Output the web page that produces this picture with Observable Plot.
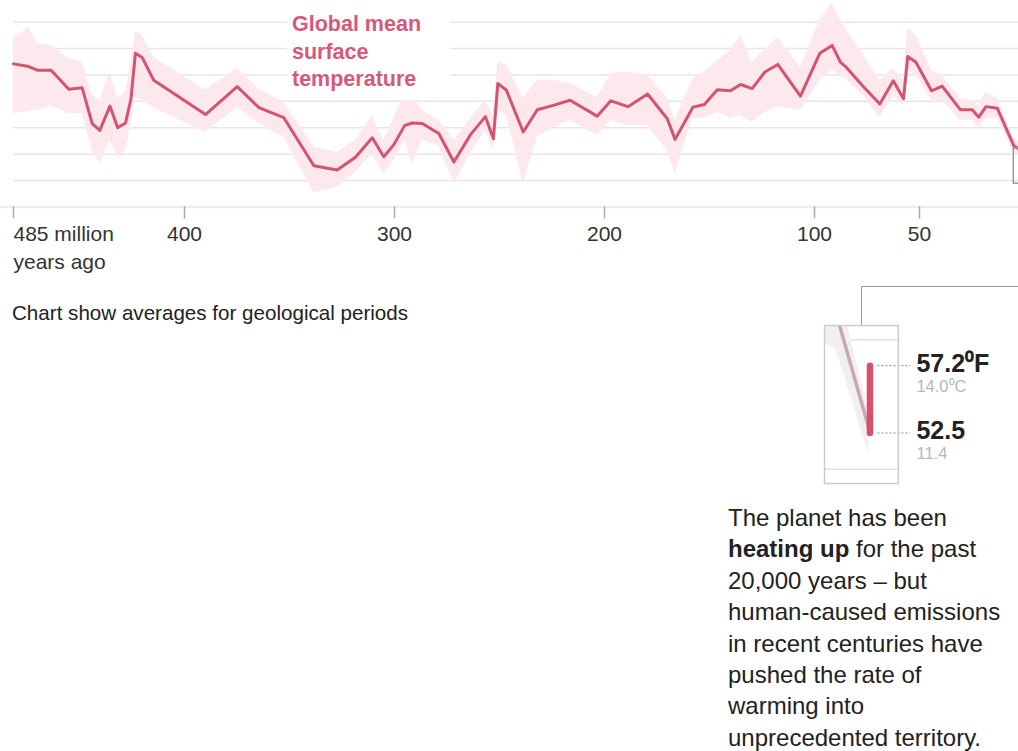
<!DOCTYPE html>
<html>
<head>
<meta charset="utf-8">
<script src="https://cdn.jsdelivr.net/npm/d3@7"></script>
<script src="https://cdn.jsdelivr.net/npm/@observablehq/plot@0.6"></script>
<style>
  html, body { margin: 0; padding: 0; background: #fff; overflow: hidden; }
  body { width: 1018px; height: 751px; position: relative; font-family: "Liberation Sans", Arial, sans-serif; color: #222; }
  #main { position: absolute; left: 0; top: 0; }
  #title { position: absolute; left: 287px; top: 9px; width: 158px; padding: 2px 0 6px 5px; background: #fff;
           font-weight: bold; font-size: 21.5px; line-height: 27.5px; color: #d6587a; }
  #note { position: absolute; left: 12px; top: 301px; font-size: 20.6px; line-height: 24px; color: #222; white-space: nowrap; }
  #connector { position: absolute; left: 861px; top: 286px; width: 200px; height: 39px;
               border-top: 1.5px solid #999; border-left: 1.5px solid #999; box-sizing: border-box; }
  #inset { position: absolute; left: 824px; top: 325px; }
  #para { position: absolute; left: 728px; top: 502px; font-size: 24px; line-height: 31.4px; color: #222; white-space: nowrap; }
</style>
</head>
<body>
<div id="main"></div>
<div id="title">Global mean<br>surface<br>temperature</div>
<div id="note">Chart show averages for geological periods</div>
<div id="connector"></div>
<div id="inset"></div>
<div id="para">The planet has been<br><b>heating up</b> for the past<br>20,000 years – but<br>human-caused emissions<br>in recent centuries have<br>pushed the rate of<br>warming into<br>unprecedented territory.</div>
<script>
// Millions of years ago (averages for geological periods)
const ages = [485, 477.4, 473.2, 466.3, 457.5, 450.9, 445.9, 442.1, 437.1, 433.2,
  429.3, 426.6, 424.4, 421.0, 415.3, 390.0, 374.9, 364.6, 352.7, 338.4,
  327.3, 318.6, 310.6, 305.1, 300.3, 295.2, 291.6, 286.8, 278.9, 271.7,
  263.8, 256.7, 252.9, 250.8, 246.7, 238.7, 232.0, 224.8, 216.4, 203.5,
  197.0, 188.8, 179.5, 170.1, 166.4, 157.9, 152.4, 146.3, 140.0, 135.2,
  129.7, 123.8, 117.5, 106.7, 97.5, 91.6, 87.6, 85.2, 76.8, 68.9,
  62.5, 57.6, 55.6, 51.7, 44.3, 39.2, 30.5, 24.9, 21.8, 18.3,
  13.0, 5.1, 2.7, 0.1];
// Global mean surface temperature, °C
const temps = [32.1, 31.6, 30.9, 30.9, 27.3, 27.6, 20.8, 19.5, 24.1, 20.0,
  20.9, 25.5, 34.1, 33.3, 29.0, 22.5, 27.8, 23.8, 21.9, 12.8,
  12.0, 14.4, 18.1, 14.5, 16.8, 20.4, 20.9, 20.8, 18.9, 13.5,
  18.7, 22.1, 17.9, 28.4, 27.1, 19.2, 23.4, 24.2, 25.2, 22.2,
  25.1, 24.0, 26.4, 21.7, 17.8, 23.9, 24.4, 27.2, 27.0, 28.2,
  27.4, 30.5, 32.0, 26.0, 34.1, 35.6, 32.4, 31.6, 27.8, 24.5,
  28.9, 25.5, 33.5, 32.4, 27.0, 27.9, 23.4, 23.4, 22.0, 24.0,
  23.7, 16.6, 16.0, 11.6];
// Uncertainty range, upper and lower bounds, °C
const tempHigh = [36.9, 39.0, 36.0, 35.6, 33.1, 32.4, 26.1, 25.2, 30.5, 25.5,
  26.7, 32.4, 38.2, 37.5, 33.3, 27.1, 31.2, 27.4, 24.8, 16.3,
  15.3, 17.6, 22.3, 17.6, 21.8, 26.5, 26.1, 23.3, 21.4, 17.6,
  21.8, 25.2, 22.3, 32.4, 31.8, 25.7, 29.0, 29.0, 28.4, 25.7,
  30.3, 30.5, 29.9, 25.7, 21.4, 29.3, 30.5, 32.7, 34.6, 37.5,
  32.4, 34.6, 37.1, 31.4, 40.3, 43.6, 40.3, 38.8, 33.7, 29.0,
  31.2, 29.0, 38.8, 37.5, 30.9, 29.9, 25.5, 25.2, 24.2, 26.7,
  25.5, 18.0, 17.4, 12.2];
const tempLow = [22.7, 23.1, 23.3, 24.2, 22.7, 22.7, 15.7, 13.2, 17.6, 14.2,
  15.7, 20.4, 25.7, 25.2, 23.8, 19.1, 23.8, 20.8, 18.2, 7.7,
  8.7, 11.5, 15.1, 11.3, 13.8, 17.6, 13.2, 17.6, 16.6, 9.4,
  15.1, 19.5, 15.7, 23.3, 22.3, 9.4, 18.2, 19.9, 21.4, 18.5,
  21.4, 20.4, 20.4, 15.7, 11.3, 21.8, 21.8, 22.9, 21.8, 22.3,
  21.0, 22.9, 24.0, 23.3, 29.0, 30.9, 29.9, 29.3, 26.1, 21.9,
  26.1, 24.2, 30.9, 29.9, 25.2, 25.2, 21.4, 21.4, 20.1, 21.8,
  21.8, 15.3, 14.6, 10.6];

const tickVals = [485, 400, 300, 200, 100, 50];
const tickLabels = ["485 million\nyears ago", "400", "300", "200", "100", "50"];
const gridTemps = [10, 15, 20, 25, 30, 35, 40];
const baseTemp = 5;

// Zoomed box (last few million years)
const zoomAges = [5.1, -5];
const zoomTemps = [9.4, 16.1];
// Inset: warming over the past 20,000 years
const recentC = [14.0, 11.4];
const recentF = ["57.2⁰F", "52.5"];
const recentCLabels = ["14.0⁰C", "11.4"];
const insetGrid = [10, 15];

const FONT = '"Liberation Sans", Arial, sans-serif';
const rows = ages.map((a, i) => ({age: a, t: temps[i], hi: tempHigh[i], lo: tempLow[i]}));
const box = [{a1: zoomAges[0], a2: zoomAges[1], t1: zoomTemps[0], t2: zoomTemps[1]}];

const H = 285;
const main = Plot.plot({
  width: 1018, height: H,
  marginLeft: 13, marginRight: 0, marginTop: 21.7, marginBottom: H - 206.4,
  x: {type: "linear", domain: [485, 400, 0], range: [13, 184, 1024]},
  y: {domain: [5, 40], range: [206.4, 21.7], axis: null},
  style: {fontFamily: FONT, fontSize: "21px", color: "#333", background: "transparent"},
  marks: [
    Plot.ruleY(gridTemps, {stroke: "#e6e6e6", strokeWidth: 1.5}),
    Plot.ruleY([baseTemp], {x1: 0, x2: 1018, stroke: "#eeeeee", strokeWidth: 2.5}),
    Plot.areaY(rows, {x: "age", y1: "lo", y2: "hi", fill: "#fce8ed"}),
    Plot.line(rows, {x: "age", y: "t", stroke: "#d4536f", strokeWidth: 3, strokeLinejoin: "round"}),
    Plot.rect(box, {x1: "a1", x2: "a2", y1: "t1", y2: "t2", fill: "none", stroke: "#999", strokeWidth: 1.5}),
    Plot.axisX({ticks: tickVals.slice(1), tickFormat: d => tickLabels[tickVals.indexOf(d)],
      tickSize: 12, tickPadding: 7, stroke: "#aaa", strokeWidth: 1.5, fill: "#333", fontSize: 21, label: null}),
    Plot.axisX({ticks: tickVals.slice(0, 1), tickFormat: d => tickLabels[tickVals.indexOf(d)],
      tickSize: 12, tickPadding: 2, stroke: "#aaa", strokeWidth: 1.5, fill: "#333", fontSize: 21,
      textAnchor: "start", lineHeight: 1.33, label: null})
  ]
});
document.getElementById("main").appendChild(main);

// Inset
const insetRows = rows.filter(d => d.age <= 6);
const recent = recentC.map((c, i) => ({c, f: recentF[i], cl: recentCLabels[i]}));
const barAge = 0;
const leadFrom = -0.6, leadTo = -3.24, labelAt = -3.72;
const inset = Plot.plot({
  width: 194, height: 158,
  marginLeft: 0, marginTop: 0, marginBottom: 0, marginRight: 120.3,
  x: {domain: [3.64, -2.26], axis: null},
  y: {domain: [9.45, 15.55], axis: null},
  style: {fontFamily: FONT, background: "transparent", overflow: "visible"},
  marks: [
    Plot.ruleY(insetGrid, {stroke: "#e2e2e2", strokeWidth: 1.5}),
    Plot.areaY(insetRows, {x: "age", y1: "lo", y2: "hi", fill: "#f0f0f0", clip: true}),
    Plot.line(insetRows, {x: "age", y: "t", stroke: "#caa7b1", strokeWidth: 3.5, clip: true}),
    Plot.link([recent], {x1: () => barAge, x2: () => barAge, y1: d => d[1].c, y2: d => d[0].c,
      stroke: "#d9506e", strokeWidth: 6.5, strokeLinecap: "round"}),
    Plot.link(recent, {x1: () => leadFrom, x2: () => leadTo, y1: "c", y2: "c",
      stroke: "#888", strokeWidth: 1, strokeDasharray: "2,2"}),
    Plot.frame({stroke: "#cccccc", strokeWidth: 1.5}),
    Plot.text(recent, {x: () => labelAt, y: "c", text: "f", dy: -2, textAnchor: "start",
      fontSize: 25, fontWeight: "bold", fill: "#222"}),
    Plot.text(recent, {x: () => labelAt, y: "c", text: "cl", dy: 21, textAnchor: "start",
      fontSize: 16.5, fill: "#b8b8b8"})
  ]
});
document.getElementById("inset").appendChild(inset);
</script>
</body>
</html>
